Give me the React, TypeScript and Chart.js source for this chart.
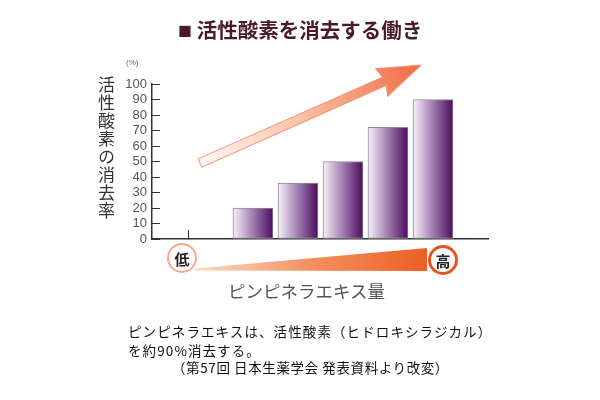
import React, { useEffect, useRef } from 'react';
import { Chart, registerables } from 'chart.js';

Chart.register(...registerables);

// ---- data ----
const doseLevels = [1, 2, 3, 4, 5];
const scavengingRate = [20, 36, 50, 72, 90];
const xBaselineTicks = [-0.4222];
const titleText = '活性酸素を消去する働き';
const yTitleText = '活性酸素の消去率';
const yUnitText = '(%)';
const xTitleText = 'ピンピネラエキス量';
const lowText = '低';
const highText = '高';
const captionLines = [
  'ピンピネラエキスは、活性酸素（ヒドロキシラジカル）',
  'を約90%消去する。',
  '（第57回 日本生薬学会 発表資料より改変）',
];

const JP = '"Noto Sans CJK JP", "Noto Sans", sans-serif';

const decorPlugin = {
  id: 'decor',
  beforeDatasetsDraw(chart: any) {
    const ctx = chart.ctx as CanvasRenderingContext2D;
    const tail = { x: 200, y: 163 };
    const tip = { x: 421, y: 65 };
    const dx = tip.x - tail.x;
    const dy = tip.y - tail.y;
    const L = Math.sqrt(dx * dx + dy * dy);
    const ang = Math.atan2(dy, dx);
    const sw = 4.5;
    const headL = 40;
    const hw = 15;
    ctx.save();
    ctx.translate(tail.x, tail.y);
    ctx.rotate(ang);
    const g = ctx.createLinearGradient(0, 0, L, 0);
    g.addColorStop(0, '#fffaf7');
    g.addColorStop(0.45, '#f9c2a8');
    g.addColorStop(1, '#f06a42');
    ctx.beginPath();
    ctx.moveTo(0, -sw);
    ctx.lineTo(L - headL, -sw);
    ctx.lineTo(L - headL - 3, -hw);
    ctx.lineTo(L, 0);
    ctx.lineTo(L - headL - 3, hw);
    ctx.lineTo(L - headL, sw);
    ctx.lineTo(0, sw);
    ctx.closePath();
    ctx.fillStyle = g;
    ctx.fill();
    ctx.strokeStyle = '#f39073';
    ctx.lineWidth = 1;
    ctx.stroke();
    ctx.restore();

    ctx.save();
    const wg = ctx.createLinearGradient(195, 0, 427, 0);
    wg.addColorStop(0, '#fcd9c6');
    wg.addColorStop(0.5, '#f4915f');
    wg.addColorStop(1, '#ec5f22');
    ctx.beginPath();
    ctx.moveTo(195, 268.5);
    ctx.lineTo(427, 248);
    ctx.lineTo(427, 271);
    ctx.lineTo(195, 270.5);
    ctx.closePath();
    ctx.fillStyle = wg;
    ctx.fill();
    ctx.restore();
  },
};

export default function App() {
  const ref = useRef<HTMLCanvasElement | null>(null);

  useEffect(() => {
    if (!ref.current) return;
    const chart = new Chart(ref.current, {
      type: 'bar',
      data: {
        datasets: [
          {
            data: doseLevels.map((x, i) => ({ x, y: scavengingRate[i] })),
            barThickness: 40,
            backgroundColor: (c: any) => {
              const ch = c.chart;
              const xs = ch.scales && ch.scales.x;
              if (!xs || c.type !== 'data') return '#8a5c9c';
              const cx = xs.getPixelForValue(doseLevels[c.dataIndex]);
              if (!isFinite(cx)) return '#8a5c9c';
              const gr = ch.ctx.createLinearGradient(cx - 20, 0, cx + 20, 0);
              gr.addColorStop(0, '#f7f2f8');
              gr.addColorStop(0.5, '#a17cb0');
              gr.addColorStop(1, '#4a0d5e');
              return gr;
            },
            borderColor: '#8c8c8c',
            borderWidth: 1,
            borderSkipped: false,
          } as any,
        ],
      },
      options: {
        animation: false,
        responsive: false,
        events: [],
        layout: { padding: { left: 0, top: 84, right: 112, bottom: 161 } },
        plugins: {
          legend: { display: false },
          tooltip: { enabled: false },
          title: { display: false },
        },
        scales: {
          x: {
            type: 'linear',
            min: -1.2444,
            max: 6.2222,
            bounds: 'data',
            offset: false,
            afterBuildTicks: (s: any) => {
              s.ticks = xBaselineTicks.map((v) => ({ value: v }));
            },
            afterFit: (s: any) => {
              s.height = 0;
            },
            ticks: { display: false },
            grid: {
              offset: false,
              drawOnChartArea: false,
              drawTicks: true,
              tickLength: -9,
              color: '#333',
              lineWidth: 1,
            },
            border: { color: '#333', width: 1.5 },
          },
          y: {
            min: 0,
            max: 100,
            afterFit: (s: any) => {
              s.width = 152;
            },
            ticks: {
              stepSize: 10,
              autoSkip: false,
              padding: 13,
              color: '#555',
              font: { family: '"Liberation Sans", sans-serif', size: 13 },
            },
            grid: {
              drawOnChartArea: false,
              drawTicks: true,
              tickLength: -8,
              color: '#333',
              lineWidth: 1,
            },
            border: { color: '#333', width: 1.5 },
          },
        },
      } as any,
      plugins: [decorPlugin],
    });
    return () => chart.destroy();
  }, []);

  const circle = (cx: number, cy: number, color: string, bw: number, text: string) => (
    <div
      style={{
        position: 'absolute',
        left: cx - 15,
        top: cy - 15,
        width: 30,
        height: 30,
        boxSizing: 'border-box',
        border: `${bw}px solid ${color}`,
        borderRadius: '50%',
        background: '#fff',
        display: 'flex',
        alignItems: 'center',
        justifyContent: 'center',
        fontFamily: JP,
        fontWeight: 'bold',
        fontSize: 15,
        color: '#222',
        lineHeight: 1,
      }}
    >
      {text}
    </div>
  );

  return (
    <div
      style={{
        position: 'absolute',
        left: 0,
        top: 0,
        width: 600,
        height: 400,
        background: '#fff',
        overflow: 'hidden',
      }}
    >
      <canvas ref={ref} width={600} height={400} style={{ position: 'absolute', left: 0, top: 0 }} />
      <div
        style={{
          position: 'absolute',
          left: 178,
          top: 19,
          fontFamily: JP,
          fontWeight: 'bold',
          fontSize: 20.5,
          lineHeight: '20px',
          color: '#4a1a2c',
          whiteSpace: 'nowrap',
        }}
      >
        <span style={{ fontSize: 14, verticalAlign: '2px' }}>■</span> {titleText}
      </div>
      <div
        style={{
          position: 'absolute',
          left: 126,
          top: 58,
          fontFamily: '"Liberation Sans", sans-serif',
          fontSize: 8,
          color: '#666',
        }}
      >
        {yUnitText}
      </div>
      <div
        style={{
          position: 'absolute',
          left: 97,
          top: 76,
          writingMode: 'vertical-rl',
          fontFamily: JP,
          fontSize: 17,
          lineHeight: '18px',
          letterSpacing: 1,
          color: '#333',
        }}
      >
        {yTitleText}
      </div>
      {circle(182, 258, '#f6a98b', 2.5, lowText)}
      {circle(443, 260, '#e9541d', 3, highText)}
      <div
        style={{
          position: 'absolute',
          left: 228,
          top: 280,
          fontFamily: JP,
          fontSize: 17.5,
          lineHeight: '22px',
          color: '#555',
          whiteSpace: 'nowrap',
        }}
      >
        {xTitleText}
      </div>
      <div
        style={{
          position: 'absolute',
          left: 128,
          top: 322,
          fontFamily: JP,
          fontSize: 13.5,
          lineHeight: '19px',
          letterSpacing: 1.1,
          color: '#111',
          whiteSpace: 'nowrap',
        }}
      >
        <div>{captionLines[0]}</div>
        <div>{captionLines[1]}</div>
        <div style={{ marginLeft: 44, marginTop: -2, letterSpacing: 0.6 }}>{captionLines[2]}</div>
      </div>
    </div>
  );
}
